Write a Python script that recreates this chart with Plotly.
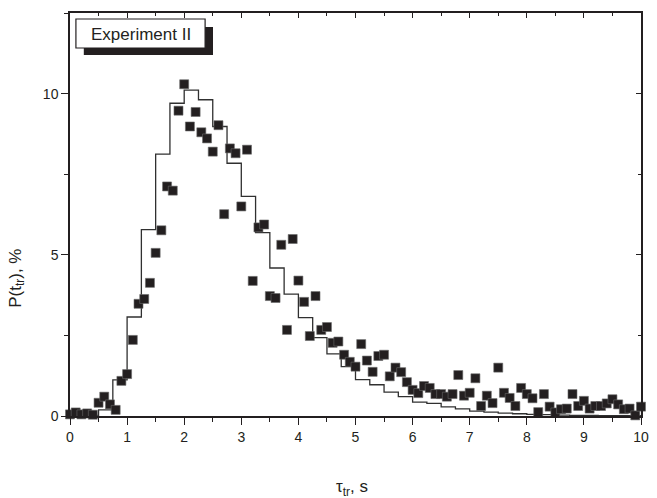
import plotly.graph_objects as go

# Measured transit-time distribution (squares), sampled every 0.1 s
tau_meas = [0.0, 0.1, 0.2, 0.3, 0.4, 0.5, 0.6, 0.7, 0.8, 0.9,
            1.0, 1.1, 1.2, 1.3, 1.4, 1.5, 1.6, 1.7, 1.8, 1.9,
            2.0, 2.1, 2.2, 2.3, 2.4, 2.5, 2.6, 2.7, 2.8, 2.9,
            3.0, 3.1, 3.2, 3.3, 3.4, 3.5, 3.6, 3.7, 3.8, 3.9,
            4.0, 4.1, 4.2, 4.3, 4.4, 4.5, 4.6, 4.7, 4.8, 4.9,
            5.0, 5.1, 5.2, 5.3, 5.4, 5.5, 5.6, 5.7, 5.8, 5.9,
            6.0, 6.1, 6.2, 6.3, 6.4, 6.5, 6.6, 6.7, 6.8, 6.9,
            7.0, 7.1, 7.2, 7.3, 7.4, 7.5, 7.6, 7.7, 7.8, 7.9,
            8.0, 8.1, 8.2, 8.3, 8.4, 8.5, 8.6, 8.7, 8.8, 8.9,
            9.0, 9.1, 9.2, 9.3, 9.4, 9.5, 9.6, 9.7, 9.8, 9.9,
            10.0, 10.1]
p_meas = [0.05, 0.11, 0.05, 0.08, 0.04, 0.41, 0.60, 0.36, 0.19, 1.09,
          1.30, 2.36, 3.48, 3.63, 4.13, 5.06, 5.76, 7.12, 6.99, 9.47,
          10.29, 8.98, 9.43, 8.80, 8.61, 8.20, 9.02, 6.26, 8.30, 8.15,
          6.50, 8.26, 4.19, 5.85, 5.94, 3.72, 3.66, 5.31, 2.67, 5.49,
          4.20, 3.54, 2.48, 3.72, 2.67, 2.76, 2.27, 2.31, 1.90, 1.68,
          1.53, 2.23, 1.72, 1.37, 1.86, 1.90, 1.23, 1.50, 1.36, 1.05,
          0.81, 0.71, 0.93, 0.87, 0.68, 0.68, 0.60, 0.68, 1.27, 0.63,
          0.72, 1.17, 0.31, 0.63, 0.40, 1.50, 0.72, 0.56, 0.31, 0.87,
          0.68, 0.55, 0.12, 0.68, 0.29, 0.11, 0.21, 0.23, 0.68, 0.31,
          0.47, 0.23, 0.31, 0.31, 0.39, 0.52, 0.36, 0.21, 0.23, 0.02,
          0.29, 0.23]

# Model histogram, 0.25 s bins (left edges) and bin heights in %
bin_edges = [0.0, 0.25, 0.5, 0.75, 1.0, 1.25, 1.5, 1.75, 2.0, 2.25,
             2.5, 2.75, 3.0, 3.25, 3.5, 3.75, 4.0, 4.25, 4.5, 4.75,
             5.0, 5.25, 5.5, 5.75, 6.0, 6.25, 6.5, 6.75, 7.0, 7.25,
             7.5, 7.75, 8.0, 8.25, 8.5, 8.75, 9.0, 9.25, 9.5, 9.75, 10.0]
p_model = [0.0, 0.02, 0.19, 1.12, 3.07, 5.78, 8.12, 9.70, 10.11, 9.81,
           8.98, 7.84, 6.81, 5.69, 4.59, 3.78, 3.05, 2.43, 1.93, 1.53,
           1.13, 0.97, 0.74, 0.60, 0.43, 0.39, 0.28, 0.22, 0.15, 0.12,
           0.09, 0.07, 0.05, 0.04, 0.03, 0.02, 0.02, 0.01, 0.01, 0.01]

x_ticks = [0, 1, 2, 3, 4, 5, 6, 7, 8, 9, 10]
y_ticks = [0, 5, 10]

INK = "#231f20"
FONT = "Liberation Sans, Arial, sans-serif"

fig = go.Figure()

# step outline of the histogram (last bin closed at the right edge)
fig.add_trace(go.Scatter(
    x=bin_edges,
    y=p_model + [p_model[-1]],
    mode="lines",
    line=dict(shape="hv", color="#303030", width=1.3),
    hoverinfo="skip",
    showlegend=False,
))

fig.add_trace(go.Scatter(
    x=tau_meas,
    y=p_meas,
    mode="markers",
    marker=dict(symbol="square", size=9, color=INK,
                line=dict(width=0.6, color="#6a6a6a")),
    cliponaxis=False,
    showlegend=False,
))

# invisible trace so the mirrored top/right axes are drawn
fig.add_trace(go.Scatter(x=[0], y=[0], xaxis="x2", yaxis="y2",
                         mode="markers", marker=dict(opacity=0),
                         hoverinfo="skip", showlegend=False))

axis_common = dict(
    showgrid=False, zeroline=False,
    showline=True, linecolor=INK, linewidth=1.5,
    tickcolor=INK, tickwidth=1.2,
    tickfont=dict(family=FONT, size=14, color=INK),
)

fig.update_layout(
    width=657, height=498,
    margin=dict(l=70, r=8, t=13, b=82),
    paper_bgcolor="white", plot_bgcolor="white",
    xaxis=dict(range=[0, 10], tickvals=x_ticks, ticks="outside", ticklen=7,
               minor=dict(dtick=0.5, ticks="outside", ticklen=4,
                          tickcolor=INK, tickwidth=1.2),
               **axis_common),
    yaxis=dict(range=[0, 12.5], tickvals=y_ticks, ticks="outside", ticklen=7,
               minor=dict(dtick=2.5, ticks="outside", ticklen=4,
                          tickcolor=INK, tickwidth=1.2),
               **axis_common),
    xaxis2=dict(overlaying="x", side="top", range=[0, 10], tickvals=x_ticks,
                ticks="inside", ticklen=5, showticklabels=False,
                minor=dict(dtick=0.5, ticks="inside", ticklen=3,
                           tickcolor=INK, tickwidth=1.2),
                **axis_common),
    yaxis2=dict(overlaying="y", side="right", range=[0, 12.5], tickvals=y_ticks,
                ticks="inside", ticklen=5, showticklabels=False,
                minor=dict(dtick=2.5, ticks="inside", ticklen=3,
                           tickcolor=INK, tickwidth=1.2),
                **axis_common),
)

# label box with drop shadow
fig.add_shape(type="rect", xref="paper", yref="paper",
              x0=(84 - 70) / 579, x1=(215 - 70) / 579,
              y0=(416 - 55) / 403, y1=(416 - 27) / 403,
              fillcolor=INK, line=dict(width=0))
fig.add_shape(type="rect", xref="paper", yref="paper",
              x0=(76 - 70) / 579, x1=(207 - 70) / 579,
              y0=(416 - 48) / 403, y1=(416 - 19) / 403,
              fillcolor="white", line=dict(color=INK, width=1.2))
fig.add_annotation(xref="paper", yref="paper",
                   x=(142 - 70) / 579, y=(416 - 34) / 403,
                   xanchor="center", yanchor="middle",
                   text="Experiment II", showarrow=False,
                   font=dict(family=FONT, size=17, color=INK))

# axis titles
fig.add_annotation(xref="paper", yref="paper", x=(356 - 70) / 579,
                   y=(416 - 488) / 403, text="τ<sub>tr</sub>, s",
                   xanchor="center", yanchor="middle",
                   showarrow=False,
                   font=dict(family=FONT, size=17, color=INK))
fig.add_annotation(xref="paper", yref="paper", x=(16 - 70) / 579,
                   y=(416 - 278) / 403, text="P(t<sub>tr</sub>), %",
                   xanchor="center", yanchor="middle",
                   textangle=-90, showarrow=False,
                   font=dict(family=FONT, size=17, color=INK))

fig.write_html("out.html")
